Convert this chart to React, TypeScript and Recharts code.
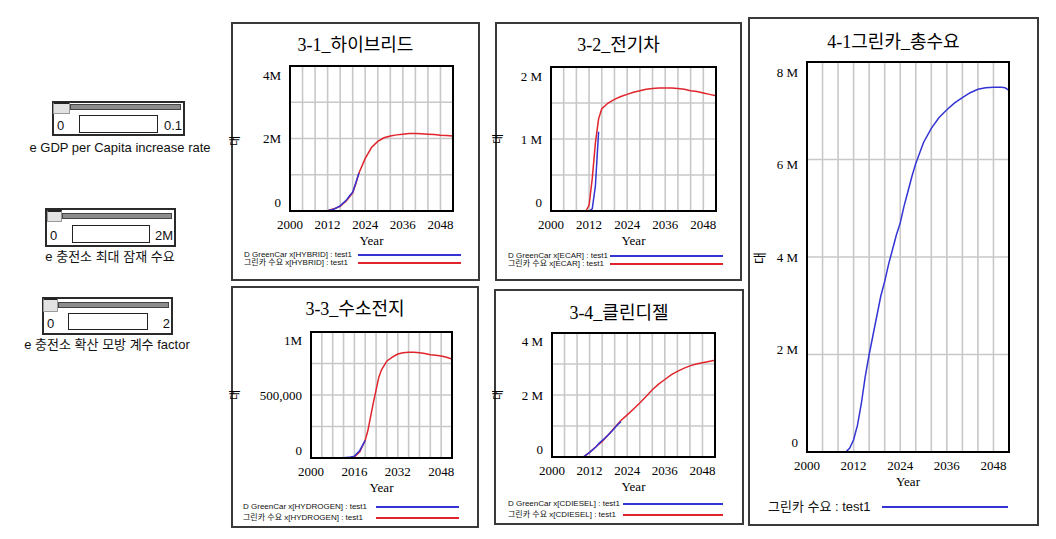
import React from 'react';
import { LineChart, Line, XAxis, YAxis, CartesianGrid, Label } from 'recharts';

const BLUE = '#3434d4';
const RED = '#e0242c';
const FRAME = '#000';
const SERIF = '"Liberation Serif", "Noto Sans CJK KR", serif';
const SANS = '"Liberation Sans", "Noto Sans CJK KR", sans-serif';

// x grid every 4 years, axis runs 2000..2052
const YEAR_GRID = [2000, 2004, 2008, 2012, 2016, 2020, 2024, 2028, 2032, 2036, 2040, 2044, 2048];
const X_LABELS_12 = [2000, 2012, 2024, 2036, 2048];
const X_LABELS_16 = [2000, 2016, 2032, 2048];

// 3-1 하이브리드
const hybridYears = [2000, 2011, 2012, 2014, 2016, 2018, 2020, 2021, 2022, 2024, 2026, 2028, 2030, 2032, 2034, 2036, 2038, 2040, 2042, 2044, 2046, 2048, 2050, 2052];
const hybridDemand = [0, 0, 10000, 60000, 130000, 280000, 500000, 750000, 1050000, 1450000, 1750000, 1920000, 2020000, 2070000, 2100000, 2120000, 2140000, 2140000, 2130000, 2120000, 2110000, 2090000, 2080000, 2070000];
const hybridDataYears = [2011, 2012, 2014, 2016, 2018, 2019, 2020, 2021, 2022];
const hybridData = [0, 10000, 50000, 140000, 300000, 420000, 520000, 780000, 1050000];

// 3-2 전기차
const ecarYears = [2000, 2011, 2012, 2013, 2014, 2015, 2016, 2018, 2020, 2022, 2024, 2026, 2028, 2030, 2032, 2034, 2036, 2038, 2040, 2042, 2044, 2046, 2048, 2050, 2052];
const ecarDemand = [0, 0, 80000, 450000, 950000, 1280000, 1420000, 1500000, 1550000, 1590000, 1620000, 1650000, 1670000, 1690000, 1700000, 1710000, 1710000, 1710000, 1700000, 1690000, 1670000, 1660000, 1640000, 1620000, 1600000];
const ecarDataYears = [2012, 2013, 2014, 2015];
const ecarData = [0, 30000, 350000, 1100000];

// 3-3 수소전지
const hydroYears = [2000, 2014, 2016, 2018, 2020, 2021, 2022, 2023, 2024, 2025, 2026, 2028, 2030, 2032, 2034, 2036, 2038, 2040, 2042, 2044, 2046, 2048, 2050, 2052];
const hydroDemand = [0, 0, 10000, 50000, 140000, 220000, 330000, 440000, 540000, 640000, 700000, 770000, 800000, 825000, 835000, 840000, 840000, 835000, 830000, 820000, 815000, 810000, 800000, 785000];
const hydroDataYears = [2011, 2014, 2016, 2018, 2019, 2020];
const hydroData = [0, 5000, 15000, 60000, 100000, 140000];

// 3-4 클린디젤
const dieselYears = [2000, 2010, 2012, 2014, 2016, 2018, 2020, 2022, 2024, 2026, 2028, 2030, 2032, 2034, 2036, 2038, 2040, 2042, 2044, 2046, 2048, 2050, 2052];
const dieselDemand = [0, 0, 150000, 330000, 500000, 720000, 950000, 1180000, 1360000, 1550000, 1740000, 1950000, 2170000, 2350000, 2500000, 2650000, 2760000, 2860000, 2940000, 3000000, 3040000, 3080000, 3120000];
const dieselDataYears = [2010, 2012, 2014, 2015, 2017, 2019, 2021, 2022];
const dieselData = [0, 150000, 320000, 440000, 620000, 820000, 1050000, 1140000];

// 4-1 그린카 총수요
const totalYears = [2000, 2010, 2011, 2012, 2013, 2014, 2015, 2016, 2017, 2018, 2019, 2020, 2021, 2022, 2023, 2024, 2025, 2026, 2027, 2028, 2030, 2032, 2034, 2036, 2038, 2040, 2042, 2044, 2046, 2048, 2050, 2051, 2052];
const totalDemand = [0, 0, 80000, 250000, 550000, 1000000, 1550000, 2000000, 2400000, 2800000, 3200000, 3500000, 3850000, 4150000, 4450000, 4700000, 5050000, 5350000, 5650000, 5920000, 6350000, 6640000, 6860000, 7020000, 7160000, 7270000, 7370000, 7440000, 7470000, 7480000, 7480000, 7470000, 7420000];

// y ticks (grid) and the labels shown on them
const hybridYTicks = [0, 1000000, 2000000, 3000000, 4000000];
const hybridYLabels: Record<number, string> = { 0: '0', 2000000: '2M', 4000000: '4M' };
const ecarYTicks = [0, 500000, 1000000, 1500000, 2000000];
const ecarYLabels: Record<number, string> = { 0: '0', 1000000: '1 M', 2000000: '2 M' };
const hydroYTicks = [0, 250000, 500000, 750000, 1000000];
const hydroYLabels: Record<number, string> = { 0: '0', 500000: '500,000', 1000000: '1M' };
const dieselYTicks = [0, 1000000, 2000000, 3000000, 4000000];
const dieselYLabels: Record<number, string> = { 0: '0', 2000000: '2 M', 4000000: '4 M' };
const totalYTicks = [0, 2000000, 4000000, 6000000, 8000000];
const totalYLabels: Record<number, string> = { 0: '0', 2000000: '2 M', 4000000: '4 M', 6000000: '6 M', 8000000: '8 M' };

const toPoints = (years: number[], vals: number[]) => years.map((year, i) => ({ year, value: vals[i] }));

type Series = { data: { year: number; value: number }[]; color: string };

function Plot({ plot, yMax, yTicks, yLabels, xLabels, series, shift }: {
  plot: [number, number, number, number];
  yMax: number;
  yTicks: number[];
  yLabels: Record<number, string>;
  xLabels: number[];
  series: Series[];
  shift: number;
}) {
  const [x0, y0, x1, y1] = plot;
  const w = x1 - x0;
  const h = y1 - y0;
  const frame = { stroke: FRAME, strokeWidth: 2 };
  return (
    <>
      <div style={{ position: 'absolute', left: x0 - 60, top: y0 - 10 }}>
        <LineChart width={w + 70} height={h + 46} margin={{ top: 10, right: 10, bottom: 0, left: 0 }}>
          <CartesianGrid stroke="#c8c8c8" strokeWidth={1.6} />
          <XAxis
            type="number"
            dataKey="year"
            domain={[2000, 2052]}
            ticks={YEAR_GRID}
            interval={0}
            allowDataOverflow
            axisLine={frame}
            tickLine={false}
            tickSize={0}
            tickMargin={9}
            height={36}
            tick={(p: any) => (
              <text x={p.x} y={p.y} dy="0.71em" textAnchor="middle" fontFamily={SERIF} fontSize={13} fill="#000">
                {xLabels.includes(p.payload.value) ? String(p.payload.value) : ''}
              </text>
            )}
          >
            <Label value="Year" position="insideBottom" offset={2} style={{ fontFamily: SERIF, fontSize: 13, fill: '#000' }} />
          </XAxis>
          <XAxis xAxisId="top" orientation="top" type="number" domain={[2000, 2052]} height={0} tick={false} tickLine={false} axisLine={frame} />
          <YAxis
            type="number"
            domain={[0, yMax]}
            ticks={yTicks}
            interval={0}
            width={60}
            axisLine={frame}
            tickLine={false}
            tickSize={0}
            tickMargin={9}
            tick={(p: any) => {
              const v = p.payload.value;
              const off = ((v - yMax / 2) / (yMax / 2)) * shift;
              return (
                <text x={p.x} y={p.y + off} dy="0.36em" textAnchor="end" fontFamily={SERIF} fontSize={13} fill="#000">
                  {yLabels[v] ?? ''}
                </text>
              );
            }}
          />
          <YAxis yAxisId="right" orientation="right" type="number" domain={[0, yMax]} width={0} tick={false} tickLine={false} axisLine={frame} />
          {series.map((s, i) => (
            <Line
              key={i}
              data={s.data}
              dataKey="value"
              type="linear"
              stroke={s.color}
              strokeWidth={1.5}
              dot={false}
              activeDot={false}
              isAnimationActive={false}
            />
          ))}
        </LineChart>
      </div>
      {/* plot frame drawn over the grid */}
      <div style={{ position: 'absolute', left: x0 - 1, top: y0 - 1, width: w + 2, height: h + 2, border: '2px solid #000', boxSizing: 'border-box', pointerEvents: 'none', zIndex: 2 }} />
    </>
  );
}

function Box({ l, t, r, b }: { l: number; t: number; r: number; b: number }) {
  return (
    <div style={{ position: 'absolute', left: l, top: t, width: r - l, height: b - t, border: '2px solid #3a3a3a', boxSizing: 'border-box' }} />
  );
}

function Title({ text, l, r, cy, size = 18 }: { text: string; l: number; r: number; cy: number; size?: number }) {
  return (
    <div style={{ position: 'absolute', left: l, width: r - l, top: cy - 11, height: 22, lineHeight: '22px', textAlign: 'center', fontFamily: SERIF, fontSize: size, color: '#000', whiteSpace: 'nowrap' }}>
      {text}
    </div>
  );
}

function Unit({ x, y, size = 11 }: { x: number; y: number; size?: number }) {
  return (
    <div style={{ position: 'absolute', left: x - 8, top: y - 8, width: 16, height: 16, lineHeight: '16px', textAlign: 'center', fontFamily: SANS, fontSize: size, transform: 'rotate(-90deg)' }}>
      대
    </div>
  );
}

function LegendRow({ text, x, lx0, lx1, y, color, size = 8 }: { text: string; x: number; lx0: number; lx1: number; y: number; color: string; size?: number }) {
  return (
    <>
      <div style={{ position: 'absolute', left: x, top: y - size, height: size * 2, lineHeight: `${size * 2}px`, fontFamily: SANS, fontSize: size, color: '#111', whiteSpace: 'nowrap' }}>
        {text}
      </div>
      <div style={{ position: 'absolute', left: lx0, top: y - 1, width: lx1 - lx0, height: 2, background: color }} />
    </>
  );
}

function Slider({ l, t, r, b, handle, track, input, minLabel, maxLabel, caption, cx, cy }: {
  l: number; t: number; r: number; b: number;
  handle: [number, number, number, number];
  track: [number, number];
  input: [number, number, number, number];
  minLabel: string; maxLabel: string; caption: string; cx: number; cy: number;
}) {
  const labelY = (input[1] + input[3]) / 2 + 2;
  return (
    <>
      <div style={{ position: 'absolute', left: l, top: t, width: r - l, height: b - t, border: '2px solid #2a2a2a', boxSizing: 'border-box', background: '#fff' }} />
      <div style={{ position: 'absolute', left: handle[2], top: track[0], width: r - 4 - handle[2], height: track[1] - track[0], background: '#8c8c8c', border: '1px solid #444', boxSizing: 'border-box' }} />
      <div style={{ position: 'absolute', left: handle[0], top: handle[1], width: handle[2] - handle[0], height: handle[3] - handle[1], background: '#e2e2e2', border: '1px solid #9a9a9a', borderTop: '2px solid #222', boxSizing: 'border-box' }} />
      <div style={{ position: 'absolute', left: input[0], top: input[1], width: input[2] - input[0], height: input[3] - input[1], border: '1.5px solid #222', boxSizing: 'border-box', background: '#fff' }} />
      <div style={{ position: 'absolute', left: l + 5, top: labelY - 8, lineHeight: '16px', fontFamily: SANS, fontSize: 13, color: '#111' }}>{minLabel}</div>
      <div style={{ position: 'absolute', left: input[2] + 1, width: r - 3 - input[2] - 1, textAlign: 'right', top: labelY - 8, lineHeight: '16px', fontFamily: SANS, fontSize: 13, color: '#111' }}>{maxLabel}</div>
      <div style={{ position: 'absolute', left: cx - 110, width: 220, top: cy - 8, lineHeight: '16px', textAlign: 'center', fontFamily: SANS, fontSize: 13, color: '#111', whiteSpace: 'nowrap' }}>{caption}</div>
    </>
  );
}

export default function App() {
  return (
    <div style={{ position: 'absolute', left: 0, top: 0, width: 1056, height: 539, background: '#fff', overflow: 'hidden' }}>
      <Slider l={52} t={101} r={185} b={136} handle={[53, 102, 70, 114]} track={[104, 110]} input={[79, 115, 158, 133]}
        minLabel="0" maxLabel="0.1" caption="e GDP per Capita increase rate" cx={120} cy={148} />
      <Slider l={45} t={208} r={176} b={247} handle={[47, 210, 62, 222]} track={[213, 219]} input={[72, 225, 150, 243]}
        minLabel="0" maxLabel="2M" caption="e 충전소 최대 잠재 수요" cx={110} cy={257} />
      <Slider l={42} t={297} r={173} b={335} handle={[43, 298, 58, 312]} track={[302, 308]} input={[68, 313, 148, 330]}
        minLabel="0" maxLabel="2" caption="e 충전소 확산 모방 계수 factor" cx={107} cy={345} />

      <Box l={231} t={22} r={480} b={281} />
      <Title text="3-1_하이브리드" l={231} r={480} cy={45} />
      <Unit x={235} y={141} />
      <Plot plot={[290, 66, 453, 211]} yMax={4000000} yTicks={hybridYTicks} yLabels={hybridYLabels} xLabels={X_LABELS_12} shift={9}
        series={[{ data: toPoints(hybridYears, hybridDemand), color: RED }, { data: toPoints(hybridDataYears, hybridData), color: BLUE }]} />
      <LegendRow text="D GreenCar x[HYBRID] : test1" x={244} lx0={358} lx1={461} y={255} color={BLUE} />
      <LegendRow text="그린카 수요 x[HYBRID] : test1" x={244} lx0={358} lx1={461} y={263} color={RED} />

      <Box l={495} t={22} r={742} b={281} />
      <Title text="3-2_전기차" l={495} r={742} cy={45} />
      <Unit x={498} y={139} />
      <Plot plot={[551, 67, 716, 211]} yMax={2000000} yTicks={ecarYTicks} yLabels={ecarYLabels} xLabels={X_LABELS_12} shift={9}
        series={[{ data: toPoints(ecarYears, ecarDemand), color: RED }, { data: toPoints(ecarDataYears, ecarData), color: BLUE }]} />
      <LegendRow text="D GreenCar x[ECAR] : test1" x={508} lx0={610} lx1={723} y={256} color={BLUE} />
      <LegendRow text="그린카 수요 x[ECAR] : test1" x={508} lx0={610} lx1={723} y={264} color={RED} />

      <Box l={231} t={286} r={479} b={528} />
      <Title text="3-3_수소전지" l={231} r={479} cy={309} />
      <Unit x={235} y={395} />
      <Plot plot={[311, 332, 452, 458]} yMax={1000000} yTicks={hydroYTicks} yLabels={hydroYLabels} xLabels={X_LABELS_16} shift={8}
        series={[{ data: toPoints(hydroYears, hydroDemand), color: RED }, { data: toPoints(hydroDataYears, hydroData), color: BLUE }]} />
      <LegendRow text="D GreenCar x[HYDROGEN] : test1" x={243} lx0={376} lx1={459} y={507} color={BLUE} />
      <LegendRow text="그린카 수요 x[HYDROGEN] : test1" x={243} lx0={376} lx1={459} y={518} color={RED} />

      <Box l={494} t={289} r={744} b={525} />
      <Title text="3-4_클린디젤" l={494} r={744} cy={313} />
      <Unit x={498} y={395} />
      <Plot plot={[552, 333, 715, 457]} yMax={4000000} yTicks={dieselYTicks} yLabels={dieselYLabels} xLabels={X_LABELS_12} shift={8}
        series={[{ data: toPoints(dieselYears, dieselDemand), color: RED }, { data: toPoints(dieselDataYears, dieselData), color: BLUE }]} />
      <LegendRow text="D GreenCar x[CDIESEL] : test1" x={508} lx0={623} lx1={723} y={504} color={BLUE} />
      <LegendRow text="그린카 수요 x[CDIESEL] : test1" x={508} lx0={623} lx1={723} y={515} color={RED} />

      <Box l={748} t={17} r={1039} b={526} />
      <Title text="4-1그린카_총수요" l={748} r={1039} cy={42} />
      <Unit x={760} y={258} size={13} />
      <Plot plot={[807, 62, 1009, 452]} yMax={8000000} yTicks={totalYTicks} yLabels={totalYLabels} xLabels={X_LABELS_12} shift={10}
        series={[{ data: toPoints(totalYears, totalDemand), color: BLUE }]} />
      <LegendRow text="그린카 수요 : test1" x={768} lx0={882} lx1={1008} y={507} color={BLUE} size={13} />
    </div>
  );
}
